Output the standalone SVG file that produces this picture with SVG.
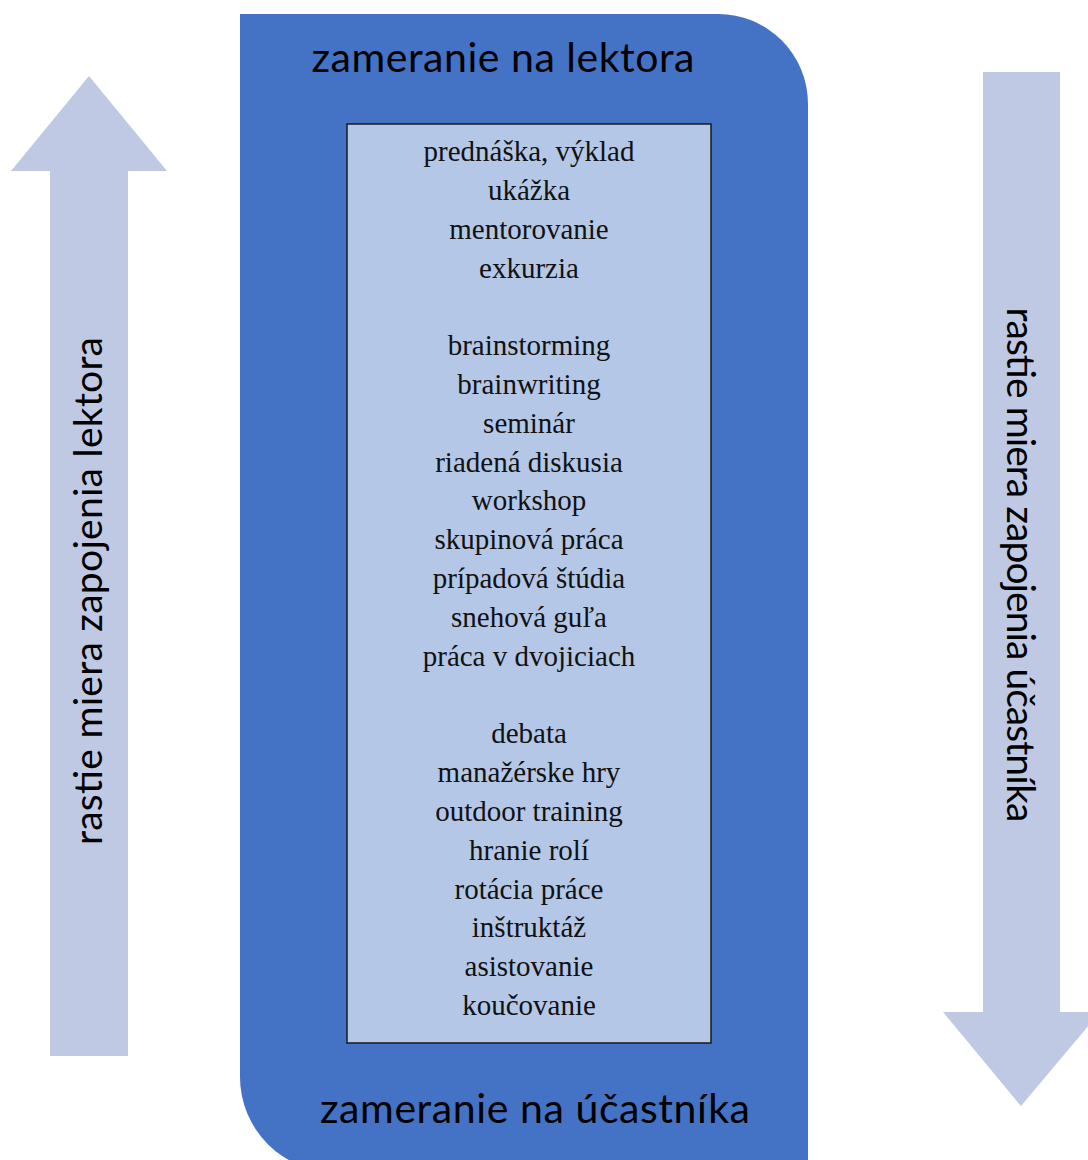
<svg xmlns="http://www.w3.org/2000/svg" width="1088" height="1160" viewBox="0 0 1088 1160">
  <style>
    .sans { font-family: Lato, "Open Sans", "Liberation Sans", sans-serif; fill: #000; }
    .head { font-size: 41px; }
    .side { font-size: 39px; }
    .item { font-family: "Liberation Serif", "Times New Roman", serif; font-size: 29px; fill: #111; text-anchor: middle; }
    .arrow { fill: #BFC9E4; }
  </style>

  <!-- direction arrows -->
  <g id="arrow-up">
    <polygon class="arrow" points="89,76 167,171 128,171 128,1056 50,1056 50,171 11,171"/>
    <text class="sans side" transform="translate(102,591) rotate(-90)" text-anchor="middle" textLength="508">rastie miera zapojenia lektora</text>
  </g>
  <g id="arrow-down">
    <polygon class="arrow" points="983,72 1060,72 1060,1012 1100,1012 1021,1106 943,1012 983,1012"/>
    <text class="sans side" transform="translate(1007,565) rotate(90)" text-anchor="middle" textLength="515">rastie miera zapojenia účastníka</text>
  </g>

  <!-- main panel -->
  <g id="focus-panel">
    <path fill="#4472C4" d="M240,14 H718 A90,90 0 0 1 808,104 V1172 H335 A95,95 0 0 1 240,1077 Z"/>
    <text class="sans head" x="503" y="72" text-anchor="middle" textLength="383">zameranie na lektora</text>
    <text class="sans head" x="535" y="1123" text-anchor="middle" textLength="430">zameranie na účastníka</text>
  </g>

  <!-- list of methods -->
  <g id="methods">
    <rect x="347" y="124" width="364" height="919" fill="#B4C7E7" stroke="#1a1a1a" stroke-width="1.5"/>
    <text class="item" x="529" y="161">prednáška, výklad</text>
    <text class="item" x="529" y="199.8">ukážka</text>
    <text class="item" x="529" y="238.6">mentorovanie</text>
    <text class="item" x="529" y="277.5">exkurzia</text>
    <text class="item" x="529" y="355.1">brainstorming</text>
    <text class="item" x="529" y="393.9">brainwriting</text>
    <text class="item" x="529" y="432.7">seminár</text>
    <text class="item" x="529" y="471.5">riadená diskusia</text>
    <text class="item" x="529" y="510.4">workshop</text>
    <text class="item" x="529" y="549.2">skupinová práca</text>
    <text class="item" x="529" y="588">prípadová štúdia</text>
    <text class="item" x="529" y="626.8">snehová guľa</text>
    <text class="item" x="529" y="665.6">práca v dvojiciach</text>
    <text class="item" x="529" y="743.3">debata</text>
    <text class="item" x="529" y="782.1">manažérske hry</text>
    <text class="item" x="529" y="820.9">outdoor training</text>
    <text class="item" x="529" y="859.7">hranie rolí</text>
    <text class="item" x="529" y="898.5">rotácia práce</text>
    <text class="item" x="529" y="937.4">inštruktáž</text>
    <text class="item" x="529" y="976.2">asistovanie</text>
    <text class="item" x="529" y="1015">koučovanie</text>
  </g>
</svg>
